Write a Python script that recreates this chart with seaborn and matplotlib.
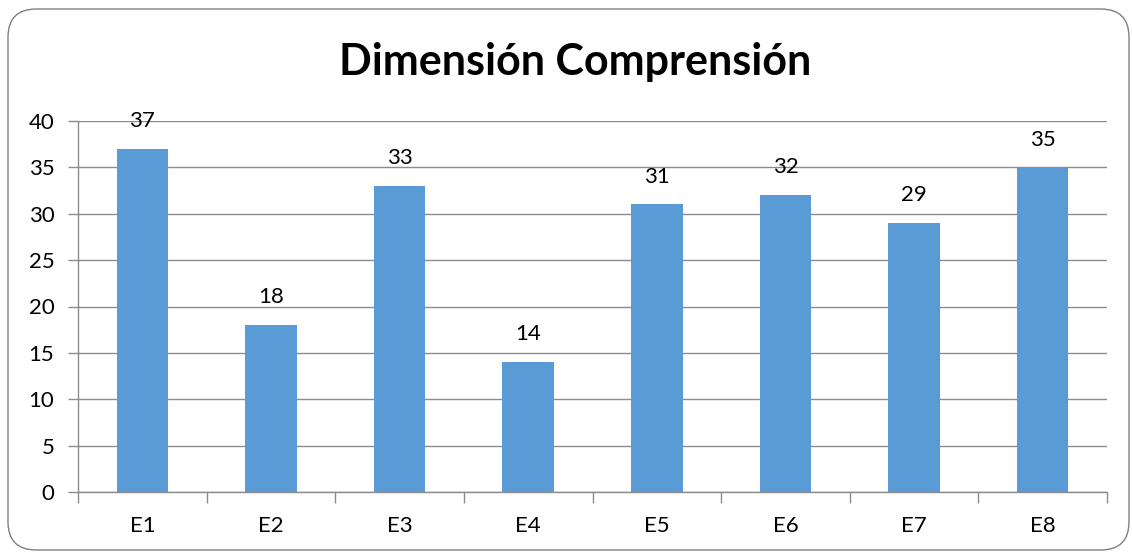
import matplotlib
matplotlib.use("Agg")
import matplotlib.pyplot as plt
from matplotlib.patches import FancyBboxPatch
import seaborn as sns
import pandas as pd

categories = ["E1", "E2", "E3", "E4", "E5", "E6", "E7", "E8"]
values = [37, 18, 33, 14, 31, 32, 29, 35]
y_ticks = [0, 5, 10, 15, 20, 25, 30, 35, 40]
title = "Dimensión Comprensión"

sns.set_theme(style="white")
plt.rcParams["font.family"] = ["Lato", "DejaVu Sans"]

df = pd.DataFrame({"cat": categories, "val": values})

fig = plt.figure(figsize=(11.32, 5.53), dpi=100)
fig.patch.set_facecolor("white")

# rounded chart frame, drawn behind the axes
frame = FancyBboxPatch((8 / 1132, 3 / 553), 1121 / 1132, 541 / 553,
                       boxstyle="round,pad=0,rounding_size=0.025",
                       transform=fig.transFigure, facecolor="none",
                       edgecolor="#808080", linewidth=1.0,
                       mutation_aspect=1132 / 553, zorder=-1)
fig.patches.append(frame)

ax = fig.add_axes([78 / 1132, 1 - 492 / 553, 1029 / 1132, 371 / 553])
ax.set_facecolor("none")

sns.barplot(data=df, x="cat", y="val", color="#5B9BD5", width=0.40,
            saturation=1, linewidth=0, ax=ax, zorder=3)

ax.set_ylim(0, 40)
ax.set_xlim(-0.5, len(categories) - 0.5)
ax.set_yticks(y_ticks)
ax.set_yticklabels([str(t) for t in y_ticks], fontsize=16, color="black")
ax.yaxis.grid(True, color="#8C8C8C", linewidth=1.0, zorder=0)
ax.set_axisbelow(True)

# category labels between boundary ticks
ax.set_xticks(range(len(categories)))
ax.set_xticklabels(categories, fontsize=16, color="black")
ax.tick_params(axis="x", length=0, pad=17)
ax.tick_params(axis="y", length=7, color="#8C8C8C", width=1.0, pad=10, left=True)
ax.set_xticks([i - 0.5 for i in range(len(categories) + 1)], minor=True)
ax.tick_params(axis="x", which="minor", length=8, color="#8C8C8C", width=1.0,
               bottom=True)
ax.set_xlabel("")
ax.set_ylabel("")

for side in ["top", "right"]:
    ax.spines[side].set_visible(False)
for side in ["left", "bottom"]:
    ax.spines[side].set_color("#8C8C8C")
    ax.spines[side].set_linewidth(1.0)

for i, v in enumerate(values):
    ax.text(i, v + 3.0, str(v), ha="center", va="center", fontsize=16,
            color="black", zorder=5)

fig.text(575 / 1132, 1 - 62 / 553, title, ha="center", va="center",
         fontsize=31, fontweight="bold", color="black")

fig.savefig("out.png", dpi=100, facecolor="white")
